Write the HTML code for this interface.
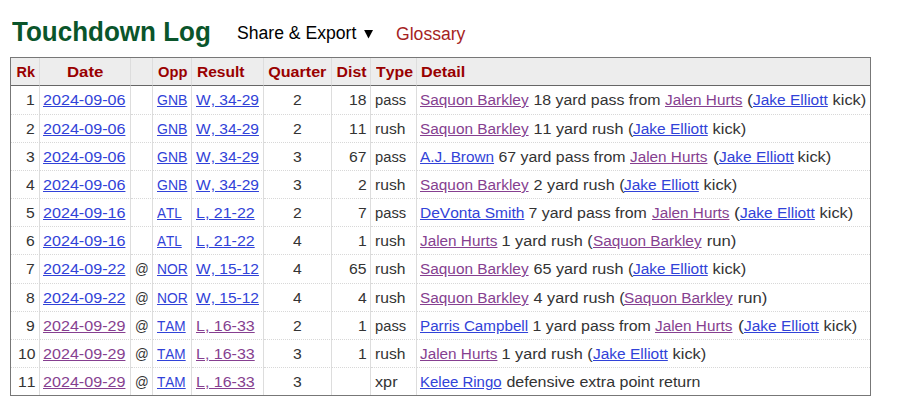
<!DOCTYPE html>
<html><head><meta charset="utf-8"><style>
html,body{margin:0;padding:0;background:#fff;}
body{width:917px;height:412px;overflow:hidden;position:relative;font-family:"Liberation Sans",sans-serif;}
#t{position:absolute;left:12px;top:17px;margin:0;font:bold 26px/30px "Liberation Sans",sans-serif;color:#0a552b;white-space:nowrap;transform:scaleY(1.045);transform-origin:0 23.6px;}
#sh{position:absolute;left:237px;top:23px;font:17.6px/20px "Liberation Sans",sans-serif;color:#000;white-space:nowrap;}
#gl{position:absolute;left:396px;top:24px;font:17.6px/20px "Liberation Sans",sans-serif;color:#a51f24;white-space:nowrap;}
table{position:absolute;left:10px;top:57px;border-collapse:separate;border-spacing:0;table-layout:fixed;width:861px;
 border:1px solid #777;font-size:14px;color:#333;font-kerning:none;}
td,th{padding:0;margin:0;white-space:nowrap;overflow:visible;vertical-align:top;line-height:18px;border-right:1px solid #ddd;box-sizing:border-box;}
td:last-child,th:last-child{border-right:0;}
th{border-bottom:1px solid #666;background:#ededed;color:#990000;font-weight:bold;font-size:14px;padding-top:5px;height:28px;}
td{padding-top:5px;border-bottom:1px dotted #d8d8d8;}
tr.last td{border-bottom:0;}
.s{display:inline-block;}
.g{display:inline-block;white-space:pre;text-align:left;}
.i{display:inline-block;transform-origin:0 0;white-space:pre;}
a{text-decoration:underline;text-underline-offset:1px;}
a.b{color:#3142d8;} a.v{color:#863f90;}
</style></head><body>
<h2 id="t">Touchdown Log</h2>
<div id="sh">Share &amp; Export</div>
<svg style="position:absolute;left:364px;top:30px" width="10" height="10" viewBox="0 0 10 10"><polygon points="0.1,0.1 9,0.1 4.5,8.6" fill="#000"/></svg>
<div id="gl">Glossary</div>
<table>
<colgroup><col style="width:29px"><col style="width:91px"><col style="width:22px"><col style="width:39px"><col style="width:72px"><col style="width:68px"><col style="width:39px"><col style="width:46px"><col style="width:453px"></colgroup>
<thead><tr><th style="text-align:right;padding-right:4px"><span class="s" style="transform:scaleX(1.03);transform-origin:right">Rk</span></th><th style="text-align:center"><span class="s" style="transform:scaleX(1.2);transform-origin:center">Date</span></th><th style="text-align:center"><span class="s" style="transform:scaleX(1);transform-origin:center"></span></th><th style="text-align:left;padding-left:5px"><span class="s" style="transform:scaleX(1.05);transform-origin:left">Opp</span></th><th style="text-align:left;padding-left:5px"><span class="s" style="transform:scaleX(1.11);transform-origin:left">Result</span></th><th style="text-align:center"><span class="s" style="transform:scaleX(1.15);transform-origin:center">Quarter</span></th><th style="text-align:right;padding-right:4px"><span class="s" style="transform:scaleX(1.13);transform-origin:right">Dist</span></th><th style="text-align:left;padding-left:5px"><span class="s" style="transform:scaleX(1.13);transform-origin:left">Type</span></th><th style="text-align:left;padding-left:4px"><span class="s" style="transform:scaleX(1.16);transform-origin:left">Detail</span></th></tr></thead><tbody>
<tr style="height:29px"><td style="text-align:right;padding-right:3.9px"><span class="g" style="width:8.742px"><span class="i" style="transform:scaleX(1.1212)">1</span></span></td><td style="text-align:left;padding-left:3.4px"><span class="g" style="width:82.443px"><a class="i b" style="transform:scaleX(1.1510)">2024-09-06</a></span></td><td style="text-align:left;padding-left:4.0px"></td><td style="text-align:left;padding-left:3.7px"><span class="g" style="width:30.363px"><a class="i b" style="transform:scaleX(1.0006)">GNB</a></span></td><td style="text-align:left;padding-left:4.0px"><span class="g" style="width:62.952px"><a class="i b" style="transform:scaleX(1.1081)">W, 34-29</a></span></td><td style="text-align:center"><span class="g" style="width:8.742px"><span class="i" style="transform:scaleX(1.1212)">2</span></span></td><td style="text-align:right;padding-right:3.6px"><span class="g" style="width:17.484px"><span class="i" style="transform:scaleX(1.1223)">18</span></span></td><td style="text-align:left;padding-left:3.6px"><span class="g" style="width:31.105px"><span class="i" style="transform:scaleX(1.0516)">pass</span></span></td><td style="text-align:left;padding-left:3.0px"><span class="g" style="width:108.572px"><a class="i v" style="transform:scaleX(1.0984)">Saquon Barkley</a></span><span class="g" style="width:136.021px"><span class="i" style="transform:scaleX(1.1351)"> 18 yard pass from </span></span><span class="g" style="width:77.453px"><a class="i v" style="transform:scaleX(1.0938)">Jalen Hurts</a></span><span class="g" style="width:11.078px"><span class="i" style="transform:scaleX(1.2938)"> (</span></span><span class="g" style="width:74.828px"><a class="i b" style="transform:scaleX(1.1052)">Jake Elliott</a></span><span class="g" style="width:38.280px"><span class="i" style="transform:scaleX(1.1716)"> kick)</span></span></td></tr>
<tr style="height:28px"><td style="text-align:right;padding-right:3.9px"><span class="g" style="width:8.742px"><span class="i" style="transform:scaleX(1.1212)">2</span></span></td><td style="text-align:left;padding-left:3.4px"><span class="g" style="width:82.443px"><a class="i b" style="transform:scaleX(1.1510)">2024-09-06</a></span></td><td style="text-align:left;padding-left:4.0px"></td><td style="text-align:left;padding-left:3.7px"><span class="g" style="width:30.363px"><a class="i b" style="transform:scaleX(1.0006)">GNB</a></span></td><td style="text-align:left;padding-left:4.0px"><span class="g" style="width:62.952px"><a class="i b" style="transform:scaleX(1.1081)">W, 34-29</a></span></td><td style="text-align:center"><span class="g" style="width:8.742px"><span class="i" style="transform:scaleX(1.1212)">2</span></span></td><td style="text-align:right;padding-right:3.6px"><span class="g" style="width:17.484px"><span class="i" style="transform:scaleX(1.1223)">11</span></span></td><td style="text-align:left;padding-left:3.6px"><span class="g" style="width:30.418px"><span class="i" style="transform:scaleX(1.1169)">rush</span></span></td><td style="text-align:left;padding-left:3.0px"><span class="g" style="width:108.572px"><a class="i v" style="transform:scaleX(1.0984)">Saquon Barkley</a></span><span class="g" style="width:104.311px"><span class="i" style="transform:scaleX(1.1556)"> 11 yard rush (</span></span><span class="g" style="width:74.828px"><a class="i b" style="transform:scaleX(1.1052)">Jake Elliott</a></span><span class="g" style="width:38.280px"><span class="i" style="transform:scaleX(1.1716)"> kick)</span></span></td></tr>
<tr style="height:28px"><td style="text-align:right;padding-right:3.9px"><span class="g" style="width:8.742px"><span class="i" style="transform:scaleX(1.1212)">3</span></span></td><td style="text-align:left;padding-left:3.4px"><span class="g" style="width:82.443px"><a class="i b" style="transform:scaleX(1.1510)">2024-09-06</a></span></td><td style="text-align:left;padding-left:4.0px"></td><td style="text-align:left;padding-left:3.7px"><span class="g" style="width:30.363px"><a class="i b" style="transform:scaleX(1.0006)">GNB</a></span></td><td style="text-align:left;padding-left:4.0px"><span class="g" style="width:62.952px"><a class="i b" style="transform:scaleX(1.1081)">W, 34-29</a></span></td><td style="text-align:center"><span class="g" style="width:8.742px"><span class="i" style="transform:scaleX(1.1212)">3</span></span></td><td style="text-align:right;padding-right:3.6px"><span class="g" style="width:17.484px"><span class="i" style="transform:scaleX(1.1223)">67</span></span></td><td style="text-align:left;padding-left:3.6px"><span class="g" style="width:31.105px"><span class="i" style="transform:scaleX(1.0516)">pass</span></span></td><td style="text-align:left;padding-left:3.0px"><span class="g" style="width:74.086px"><a class="i b" style="transform:scaleX(1.0943)">A.J. Brown</a></span><span class="g" style="width:136.021px"><span class="i" style="transform:scaleX(1.1351)"> 67 yard pass from </span></span><span class="g" style="width:77.453px"><a class="i v" style="transform:scaleX(1.0938)">Jalen Hurts</a></span><span class="g" style="width:11.078px"><span class="i" style="transform:scaleX(1.2938)"> (</span></span><span class="g" style="width:74.828px"><a class="i b" style="transform:scaleX(1.1052)">Jake Elliott</a></span><span class="g" style="width:38.280px"><span class="i" style="transform:scaleX(1.1716)"> kick)</span></span></td></tr>
<tr style="height:28px"><td style="text-align:right;padding-right:3.9px"><span class="g" style="width:8.742px"><span class="i" style="transform:scaleX(1.1212)">4</span></span></td><td style="text-align:left;padding-left:3.4px"><span class="g" style="width:82.443px"><a class="i b" style="transform:scaleX(1.1510)">2024-09-06</a></span></td><td style="text-align:left;padding-left:4.0px"></td><td style="text-align:left;padding-left:3.7px"><span class="g" style="width:30.363px"><a class="i b" style="transform:scaleX(1.0006)">GNB</a></span></td><td style="text-align:left;padding-left:4.0px"><span class="g" style="width:62.952px"><a class="i b" style="transform:scaleX(1.1081)">W, 34-29</a></span></td><td style="text-align:center"><span class="g" style="width:8.742px"><span class="i" style="transform:scaleX(1.1212)">3</span></span></td><td style="text-align:right;padding-right:3.6px"><span class="g" style="width:8.742px"><span class="i" style="transform:scaleX(1.1212)">2</span></span></td><td style="text-align:left;padding-left:3.6px"><span class="g" style="width:30.418px"><span class="i" style="transform:scaleX(1.1169)">rush</span></span></td><td style="text-align:left;padding-left:3.0px"><span class="g" style="width:108.572px"><a class="i v" style="transform:scaleX(1.0984)">Saquon Barkley</a></span><span class="g" style="width:95.569px"><span class="i" style="transform:scaleX(1.1586)"> 2 yard rush (</span></span><span class="g" style="width:74.828px"><a class="i b" style="transform:scaleX(1.1052)">Jake Elliott</a></span><span class="g" style="width:38.280px"><span class="i" style="transform:scaleX(1.1716)"> kick)</span></span></td></tr>
<tr style="height:28px"><td style="text-align:right;padding-right:3.9px"><span class="g" style="width:8.742px"><span class="i" style="transform:scaleX(1.1212)">5</span></span></td><td style="text-align:left;padding-left:3.4px"><span class="g" style="width:82.443px"><a class="i b" style="transform:scaleX(1.1510)">2024-09-16</a></span></td><td style="text-align:left;padding-left:4.0px"></td><td style="text-align:left;padding-left:3.7px"><span class="g" style="width:24.755px"><a class="i b" style="transform:scaleX(0.9637)">ATL</a></span></td><td style="text-align:left;padding-left:4.0px"><span class="g" style="width:58.719px"><a class="i b" style="transform:scaleX(1.1429)">L, 21-22</a></span></td><td style="text-align:center"><span class="g" style="width:8.742px"><span class="i" style="transform:scaleX(1.1212)">2</span></span></td><td style="text-align:right;padding-right:3.6px"><span class="g" style="width:8.742px"><span class="i" style="transform:scaleX(1.1212)">7</span></span></td><td style="text-align:left;padding-left:3.6px"><span class="g" style="width:31.105px"><span class="i" style="transform:scaleX(1.0516)">pass</span></span></td><td style="text-align:left;padding-left:3.0px"><span class="g" style="width:104.393px"><a class="i b" style="transform:scaleX(1.1085)">DeVonta Smith</a></span><span class="g" style="width:127.279px"><span class="i" style="transform:scaleX(1.1359)"> 7 yard pass from </span></span><span class="g" style="width:77.453px"><a class="i v" style="transform:scaleX(1.0938)">Jalen Hurts</a></span><span class="g" style="width:11.078px"><span class="i" style="transform:scaleX(1.2938)"> (</span></span><span class="g" style="width:74.828px"><a class="i b" style="transform:scaleX(1.1052)">Jake Elliott</a></span><span class="g" style="width:38.280px"><span class="i" style="transform:scaleX(1.1716)"> kick)</span></span></td></tr>
<tr style="height:28px"><td style="text-align:right;padding-right:3.9px"><span class="g" style="width:8.742px"><span class="i" style="transform:scaleX(1.1212)">6</span></span></td><td style="text-align:left;padding-left:3.4px"><span class="g" style="width:82.443px"><a class="i b" style="transform:scaleX(1.1510)">2024-09-16</a></span></td><td style="text-align:left;padding-left:4.0px"></td><td style="text-align:left;padding-left:3.7px"><span class="g" style="width:24.755px"><a class="i b" style="transform:scaleX(0.9637)">ATL</a></span></td><td style="text-align:left;padding-left:4.0px"><span class="g" style="width:58.719px"><a class="i b" style="transform:scaleX(1.1429)">L, 21-22</a></span></td><td style="text-align:center"><span class="g" style="width:8.742px"><span class="i" style="transform:scaleX(1.1212)">4</span></span></td><td style="text-align:right;padding-right:3.6px"><span class="g" style="width:8.742px"><span class="i" style="transform:scaleX(1.1212)">1</span></span></td><td style="text-align:left;padding-left:3.6px"><span class="g" style="width:30.418px"><span class="i" style="transform:scaleX(1.1169)">rush</span></span></td><td style="text-align:left;padding-left:3.0px"><span class="g" style="width:77.453px"><a class="i v" style="transform:scaleX(1.0938)">Jalen Hurts</a></span><span class="g" style="width:95.569px"><span class="i" style="transform:scaleX(1.1586)"> 1 yard rush (</span></span><span class="g" style="width:108.572px"><a class="i v" style="transform:scaleX(1.0984)">Saquon Barkley</a></span><span class="g" style="width:34.349px"><span class="i" style="transform:scaleX(1.1928)"> run)</span></span></td></tr>
<tr style="height:29px"><td style="text-align:right;padding-right:3.9px"><span class="g" style="width:8.742px"><span class="i" style="transform:scaleX(1.1212)">7</span></span></td><td style="text-align:left;padding-left:3.4px"><span class="g" style="width:82.443px"><a class="i b" style="transform:scaleX(1.1510)">2024-09-22</a></span></td><td style="text-align:left;padding-left:4.0px"><span class="g" style="width:13.745px"><span class="i" style="transform:scaleX(0.9667)">@</span></span></td><td style="text-align:left;padding-left:3.7px"><span class="g" style="width:30.651px"><a class="i b" style="transform:scaleX(0.9848)">NOR</a></span></td><td style="text-align:left;padding-left:4.0px"><span class="g" style="width:62.952px"><a class="i b" style="transform:scaleX(1.1081)">W, 15-12</a></span></td><td style="text-align:center"><span class="g" style="width:8.742px"><span class="i" style="transform:scaleX(1.1212)">4</span></span></td><td style="text-align:right;padding-right:3.6px"><span class="g" style="width:17.484px"><span class="i" style="transform:scaleX(1.1223)">65</span></span></td><td style="text-align:left;padding-left:3.6px"><span class="g" style="width:30.418px"><span class="i" style="transform:scaleX(1.1169)">rush</span></span></td><td style="text-align:left;padding-left:3.0px"><span class="g" style="width:108.572px"><a class="i v" style="transform:scaleX(1.0984)">Saquon Barkley</a></span><span class="g" style="width:104.311px"><span class="i" style="transform:scaleX(1.1556)"> 65 yard rush (</span></span><span class="g" style="width:74.828px"><a class="i b" style="transform:scaleX(1.1052)">Jake Elliott</a></span><span class="g" style="width:38.280px"><span class="i" style="transform:scaleX(1.1716)"> kick)</span></span></td></tr>
<tr style="height:28px"><td style="text-align:right;padding-right:3.9px"><span class="g" style="width:8.742px"><span class="i" style="transform:scaleX(1.1212)">8</span></span></td><td style="text-align:left;padding-left:3.4px"><span class="g" style="width:82.443px"><a class="i b" style="transform:scaleX(1.1510)">2024-09-22</a></span></td><td style="text-align:left;padding-left:4.0px"><span class="g" style="width:13.745px"><span class="i" style="transform:scaleX(0.9667)">@</span></span></td><td style="text-align:left;padding-left:3.7px"><span class="g" style="width:30.651px"><a class="i b" style="transform:scaleX(0.9848)">NOR</a></span></td><td style="text-align:left;padding-left:4.0px"><span class="g" style="width:62.952px"><a class="i b" style="transform:scaleX(1.1081)">W, 15-12</a></span></td><td style="text-align:center"><span class="g" style="width:8.742px"><span class="i" style="transform:scaleX(1.1212)">4</span></span></td><td style="text-align:right;padding-right:3.6px"><span class="g" style="width:8.742px"><span class="i" style="transform:scaleX(1.1212)">4</span></span></td><td style="text-align:left;padding-left:3.6px"><span class="g" style="width:30.418px"><span class="i" style="transform:scaleX(1.1169)">rush</span></span></td><td style="text-align:left;padding-left:3.0px"><span class="g" style="width:108.572px"><a class="i v" style="transform:scaleX(1.0984)">Saquon Barkley</a></span><span class="g" style="width:95.569px"><span class="i" style="transform:scaleX(1.1586)"> 4 yard rush (</span></span><span class="g" style="width:108.572px"><a class="i v" style="transform:scaleX(1.0984)">Saquon Barkley</a></span><span class="g" style="width:34.349px"><span class="i" style="transform:scaleX(1.1928)"> run)</span></span></td></tr>
<tr style="height:28px"><td style="text-align:right;padding-right:3.9px"><span class="g" style="width:8.742px"><span class="i" style="transform:scaleX(1.1212)">9</span></span></td><td style="text-align:left;padding-left:3.4px"><span class="g" style="width:82.443px"><a class="i v" style="transform:scaleX(1.1510)">2024-09-29</a></span></td><td style="text-align:left;padding-left:4.0px"><span class="g" style="width:13.745px"><span class="i" style="transform:scaleX(0.9667)">@</span></span></td><td style="text-align:left;padding-left:3.7px"><span class="g" style="width:28.686px"><a class="i b" style="transform:scaleX(0.9703)">TAM</a></span></td><td style="text-align:left;padding-left:4.0px"><span class="g" style="width:58.719px"><a class="i v" style="transform:scaleX(1.1429)">L, 16-33</a></span></td><td style="text-align:center"><span class="g" style="width:8.742px"><span class="i" style="transform:scaleX(1.1212)">2</span></span></td><td style="text-align:right;padding-right:3.6px"><span class="g" style="width:8.742px"><span class="i" style="transform:scaleX(1.1212)">1</span></span></td><td style="text-align:left;padding-left:3.6px"><span class="g" style="width:31.105px"><span class="i" style="transform:scaleX(1.0516)">pass</span></span></td><td style="text-align:left;padding-left:3.0px"><span class="g" style="width:108.091px"><a class="i b" style="transform:scaleX(1.0853)">Parris Campbell</a></span><span class="g" style="width:127.279px"><span class="i" style="transform:scaleX(1.1359)"> 1 yard pass from </span></span><span class="g" style="width:77.453px"><a class="i v" style="transform:scaleX(1.0938)">Jalen Hurts</a></span><span class="g" style="width:11.078px"><span class="i" style="transform:scaleX(1.2938)"> (</span></span><span class="g" style="width:74.828px"><a class="i b" style="transform:scaleX(1.1052)">Jake Elliott</a></span><span class="g" style="width:38.280px"><span class="i" style="transform:scaleX(1.1716)"> kick)</span></span></td></tr>
<tr style="height:28px"><td style="text-align:right;padding-right:3.9px"><span class="g" style="width:17.484px"><span class="i" style="transform:scaleX(1.1223)">10</span></span></td><td style="text-align:left;padding-left:3.4px"><span class="g" style="width:82.443px"><a class="i v" style="transform:scaleX(1.1510)">2024-09-29</a></span></td><td style="text-align:left;padding-left:4.0px"><span class="g" style="width:13.745px"><span class="i" style="transform:scaleX(0.9667)">@</span></span></td><td style="text-align:left;padding-left:3.7px"><span class="g" style="width:28.686px"><a class="i b" style="transform:scaleX(0.9703)">TAM</a></span></td><td style="text-align:left;padding-left:4.0px"><span class="g" style="width:58.719px"><a class="i v" style="transform:scaleX(1.1429)">L, 16-33</a></span></td><td style="text-align:center"><span class="g" style="width:8.742px"><span class="i" style="transform:scaleX(1.1212)">3</span></span></td><td style="text-align:right;padding-right:3.6px"><span class="g" style="width:8.742px"><span class="i" style="transform:scaleX(1.1212)">1</span></span></td><td style="text-align:left;padding-left:3.6px"><span class="g" style="width:30.418px"><span class="i" style="transform:scaleX(1.1169)">rush</span></span></td><td style="text-align:left;padding-left:3.0px"><span class="g" style="width:77.453px"><a class="i v" style="transform:scaleX(1.0938)">Jalen Hurts</a></span><span class="g" style="width:95.569px"><span class="i" style="transform:scaleX(1.1586)"> 1 yard rush (</span></span><span class="g" style="width:74.828px"><a class="i b" style="transform:scaleX(1.1052)">Jake Elliott</a></span><span class="g" style="width:38.280px"><span class="i" style="transform:scaleX(1.1716)"> kick)</span></span></td></tr>
<tr class="last" style="height:27px"><td style="text-align:right;padding-right:3.9px"><span class="g" style="width:17.484px"><span class="i" style="transform:scaleX(1.1223)">11</span></span></td><td style="text-align:left;padding-left:3.4px"><span class="g" style="width:82.443px"><a class="i v" style="transform:scaleX(1.1510)">2024-09-29</a></span></td><td style="text-align:left;padding-left:4.0px"><span class="g" style="width:13.745px"><span class="i" style="transform:scaleX(0.9667)">@</span></span></td><td style="text-align:left;padding-left:3.7px"><span class="g" style="width:28.686px"><a class="i b" style="transform:scaleX(0.9703)">TAM</a></span></td><td style="text-align:left;padding-left:4.0px"><span class="g" style="width:58.719px"><a class="i v" style="transform:scaleX(1.1429)">L, 16-33</a></span></td><td style="text-align:center"><span class="g" style="width:8.742px"><span class="i" style="transform:scaleX(1.1212)">3</span></span></td><td style="text-align:right;padding-right:3.6px"></td><td style="text-align:left;padding-left:3.6px"><span class="g" style="width:22.569px"><span class="i" style="transform:scaleX(1.1602)">xpr</span></span></td><td style="text-align:left;padding-left:3.0px"><span class="g" style="width:81.535px"><a class="i b" style="transform:scaleX(1.0689)">Kelee Ringo</a></span><span class="g" style="width:198.478px"><span class="i" style="transform:scaleX(1.1437)"> defensive extra point return</span></span></td></tr>
</tbody></table>
</body></html>
